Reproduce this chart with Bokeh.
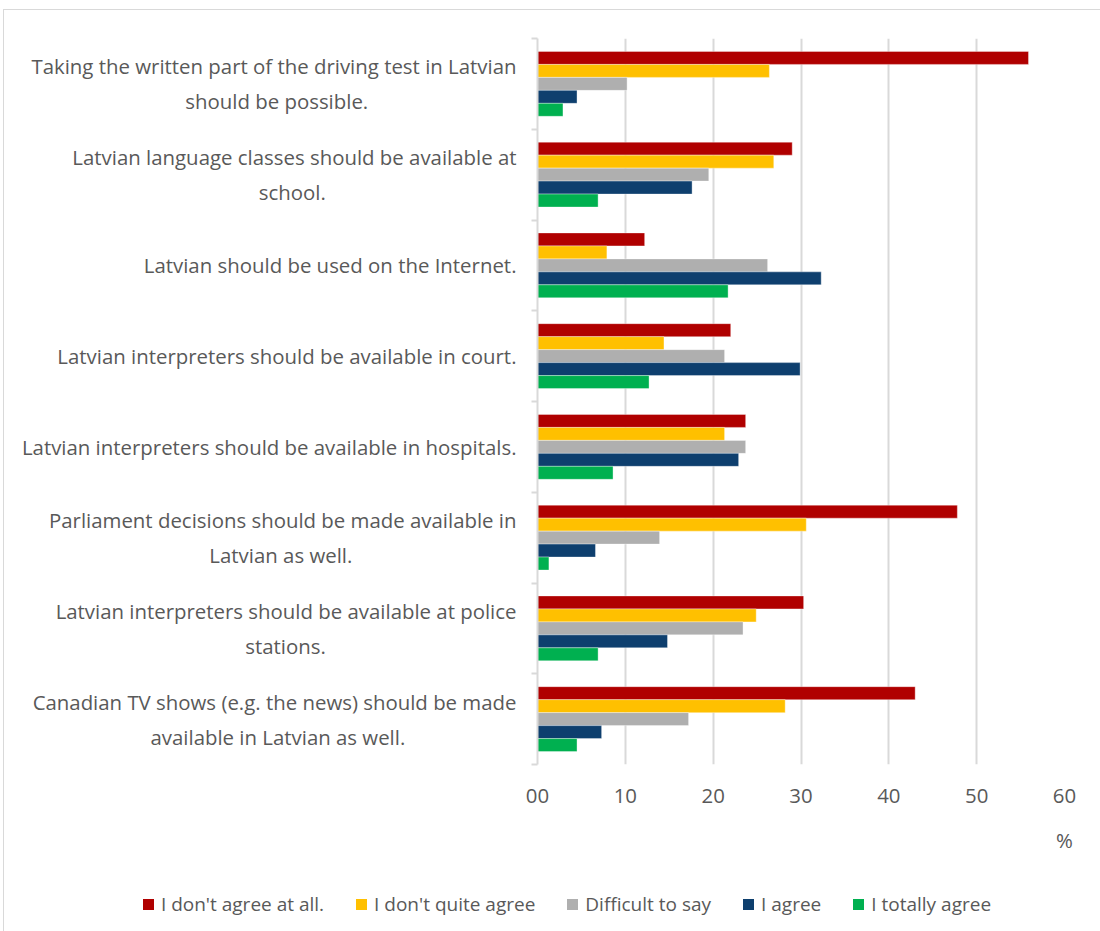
from bokeh.plotting import figure
from bokeh.models import ColumnDataSource, FixedTicker, Range1d, Div
from bokeh.layouts import column
from bokeh.transform import dodge
from bokeh.embed import file_html
from bokeh.resources import INLINE
from html import escape

statements = [
    ("Taking the written part of the driving test in Latvian", "should be possible."),
    ("Latvian language classes should be available at", "school."),
    ("Latvian should be used on the Internet.", ""),
    ("Latvian interpreters should be available in court.", ""),
    ("Latvian interpreters should be available in hospitals.", ""),
    ("Parliament decisions should be made available in", "Latvian as well."),
    ("Latvian interpreters should be available at police", "stations."),
    ("Canadian TV shows (e.g. the news) should be made", "available in Latvian as well."),
]
series_names = ["I don't agree at all.", "I don't quite agree", "Difficult to say", "I agree", "I totally agree"]
series_keys = ["disagree_all", "dont_quite", "difficult", "agree", "totally"]
colors = ["#B00000", "#FFC000", "#AFAFAF", "#0E3F6E", "#00B050"]

disagree_all = [55.9, 29.0, 12.2, 22.0, 23.7, 47.8, 30.3, 43.0]
dont_quite = [26.4, 26.9, 7.9, 14.4, 21.3, 30.6, 24.9, 28.2]
difficult = [10.2, 19.5, 26.2, 21.3, 23.7, 13.9, 23.4, 17.2]
agree = [4.5, 17.6, 32.3, 29.9, 22.9, 6.6, 14.8, 7.3]
totally = [2.9, 6.9, 21.7, 12.7, 8.6, 1.3, 6.9, 4.5]

x_ticks = [0, 10, 20, 30, 40, 50, 60]
x_tick_labels = ["00", "10", "20", "30", "40", "50", "60"]
x_unit = "%"

# trailing non-breaking spaces so that the second line of a wrapped label sits centred
second_line_pad = [28, 36, 0, 0, 0, 31, 36, 21]

def make_label(first, second, pad):
    if not second:
        return first
    return first + "\n" + second + "\u00a0" * pad

labels = [make_label(a, b, k) for (a, b), k in zip(statements, second_line_pad)]

n = len(statements)
pos = [n - i - 0.5 for i in range(n)]
src = ColumnDataSource(dict(pos=pos, disagree_all=disagree_all, dont_quite=dont_quite,
                            difficult=difficult, agree=agree, totally=totally))

FONT = "Open Sans"
FS = "20.4px"
GRAY = "#595959"
LIGHT = "#D9D9D9"

p = figure(output_backend="svg", toolbar_location=None,
           frame_width=527, frame_height=726,
           min_border_left=533, min_border_right=34, min_border_top=28, min_border_bottom=109,
           x_range=Range1d(0, 60), y_range=Range1d(0, n))
p.outline_line_color = None

bar_h = 0.143
offsets = [2 * bar_h, bar_h, 0.0, -bar_h, -2 * bar_h]
for key, col, off in zip(series_keys, colors, offsets):
    p.hbar(y=dodge("pos", off), left=0, right=key, height=bar_h, source=src,
           fill_color=col, line_color="white", line_width=0.6, line_alpha=0.6)

# x axis
xax = p.xaxis[0]
xax.ticker = FixedTicker(ticks=x_ticks)
xax.major_label_overrides = {t: l for t, l in zip(x_ticks, x_tick_labels)}
xax.axis_line_color = None
xax.major_tick_line_color = None
xax.minor_tick_line_color = None
xax.major_label_text_font = FONT
xax.major_label_text_font_size = FS
xax.major_label_text_color = GRAY
xax.major_label_standoff = 18

xax.axis_label = x_unit
xax.axis_label_align = "end"
xax.axis_label_text_font = FONT
xax.axis_label_text_font_size = FS
xax.axis_label_text_font_style = "normal"
xax.axis_label_text_color = GRAY
xax.axis_label_standoff = 20

p.xgrid.ticker = FixedTicker(ticks=x_ticks)
p.xgrid.grid_line_color = LIGHT
p.xgrid.grid_line_width = 2
p.ygrid.grid_line_color = None

# y axis
yax = p.yaxis[0]
yax.ticker = FixedTicker(ticks=pos, minor_ticks=list(range(n + 1)))
yax.major_label_overrides = {pp: s for pp, s in zip(pos, labels)}
yax.axis_line_color = LIGHT
yax.axis_line_width = 2
yax.major_tick_line_color = None
yax.minor_tick_line_color = LIGHT
yax.minor_tick_line_width = 2
yax.minor_tick_out = 6
yax.minor_tick_in = 0
yax.major_label_text_font = FONT
yax.major_label_text_font_size = FS
yax.major_label_text_color = GRAY
yax.major_label_text_line_height = 1.25
yax.major_label_standoff = 15

# legend strip built from the series names and colours
entries = "".join(
    '<span style="display:inline-flex;align-items:center;margin:0 16px;white-space:nowrap;">'
    f'<span style="display:inline-block;width:11px;height:11px;background:{c};margin-right:7px;"></span>'
    f'{escape(name)}</span>'
    for name, c in zip(series_names, colors)
)
legend_html = (
    '<div style="display:flex;justify-content:center;align-items:center;'
    f'width:1094px;height:54px;box-sizing:border-box;padding-left:22px;'
    f'font-family:\'{FONT}\';font-size:19px;color:{GRAY};">' + entries + '</div>'
)
legend_div = Div(text=legend_html, width=1094, height=54)

layout = column(p, legend_div, spacing=0,
                styles={"border": "1px solid #D9D9D9", "margin-left": "3px", "margin-top": "9px"})

open("out.html", "w").write(file_html(layout, INLINE))
